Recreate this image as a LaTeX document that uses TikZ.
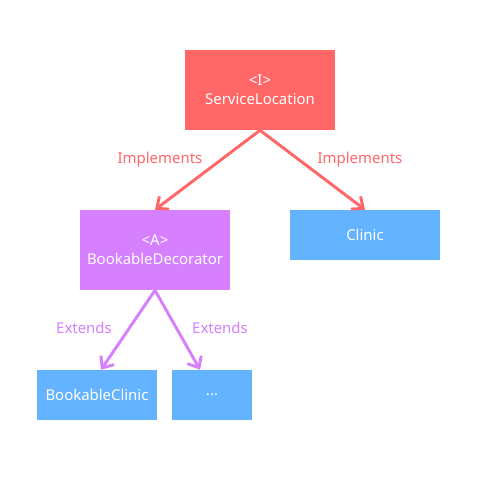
\documentclass[tikz,border=0pt]{standalone}
\usepackage{fontspec}
\setmainfont{Noto Sans}
\usetikzlibrary{arrows.meta,calc}
\definecolor{cred}{HTML}{FF6666}
\definecolor{cpurple}{HTML}{D67FFF}
\definecolor{cblue}{HTML}{63B3FF}
\tikzset{
  box/.style={fill=#1, text=white, inner sep=0pt, align=center, font=\fontsize{11.2}{14}\selectfont},
  conn/.style={draw=#1, line width=2.2pt, -{Straight Barb[length=7pt,width=12pt,line width=2.2pt]}},
  lbl/.style={text=#1, font=\fontsize{11.2}{13}\selectfont}
}
\begin{document}
\begin{tikzpicture}[x=0.75pt,y=-0.75pt]
\useasboundingbox (0,0) rectangle (500,500);
\node[box=cred, minimum width=112.5pt, minimum height=60pt] (sl) at (260,90) {<I>\\ServiceLocation};
\node[box=cpurple, minimum width=112.5pt, minimum height=60pt] (bd) at (155,250) {<A>\\BookableDecorator};
\node[box=cblue, minimum width=112.5pt, minimum height=37.5pt] (cl) at (365,235) {Clinic};
\node[box=cblue, minimum width=90pt, minimum height=37.5pt] (bc) at (97,395) {BookableClinic};
\node[box=cblue, minimum width=60pt, minimum height=37.5pt] (dt) at (212,395) {...};
\coordinate (bctip) at ($(bc.north)+(4,0)$);
\coordinate (dttip) at ($(dt.north)+(-12,0)$);
\draw[conn=cred] (sl.south) -- (bd.north);
\draw[conn=cred] (sl.south) -- (cl.north);
\draw[conn=cpurple] (bd.south) -- (bctip);
\draw[conn=cpurple] (bd.south) -- (dttip);
\node[lbl=cred] (l1) at (160,160) {Implements};
\node[lbl=cred] (l2) at (360,160) {Implements};
\node[lbl=cpurple] (l3) at (84,328) {Extends};
\node[lbl=cpurple] (l4) at (220,328) {Extends};
\end{tikzpicture}
\end{document}
